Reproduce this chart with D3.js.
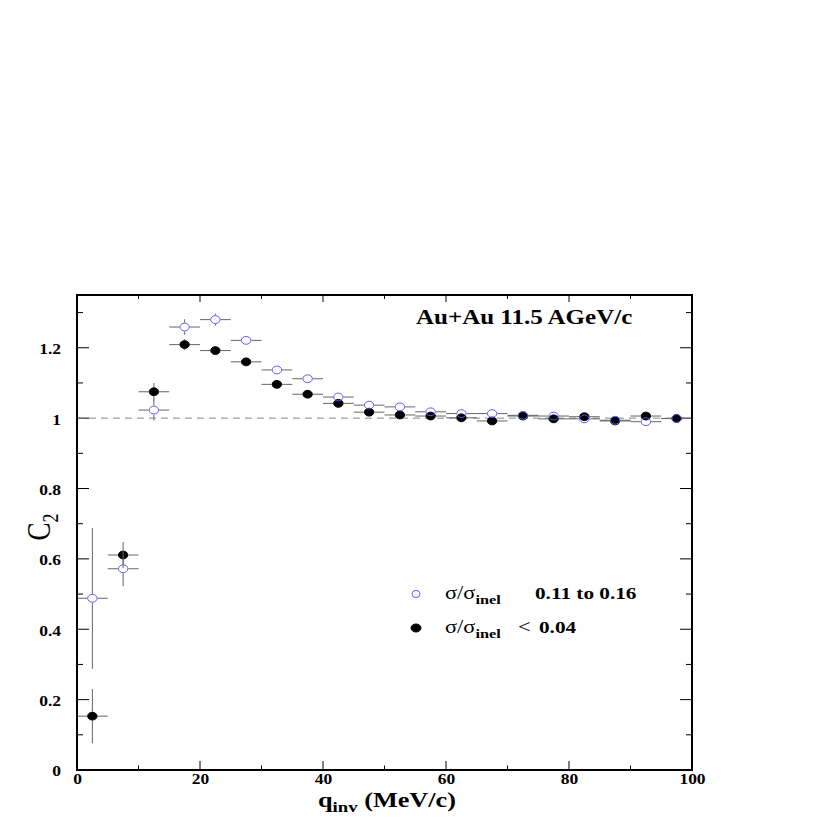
<!DOCTYPE html>
<html>
<head>
<meta charset="utf-8">
<script src="https://cdn.jsdelivr.net/npm/d3@7"></script>
<style>
  body { margin: 0; background: #fff; }
  text { font-family: "Liberation Serif", "Times New Roman", serif; }
</style>
</head>
<body>
<div id="chart"></div>
<script>
// bin centres (MeV/c) and half-width
let qBins = [2.5, 7.5, 12.5, 17.5, 22.5, 27.5, 32.5, 37.5, 42.5, 47.5,
             52.5, 57.5, 62.5, 67.5, 72.5, 77.5, 82.5, 87.5, 92.5, 97.5];
let qHalf = 2.5;

// sigma/sigma_inel 0.11 to 0.16 (open)
let openC2  = [0.488, 0.572, 1.023, 1.259, 1.280, 1.221, 1.137, 1.112, 1.060, 1.037,
               1.032, 1.018, 1.013, 1.013, 1.008, 1.006, 0.998, 0.994, 0.990, 0.999];
let openErr = [0.200, 0.050, 0.030, 0.022, 0.017, 0.010, 0.009, 0.008, 0.007, 0.007,
               0.006, 0.006, 0.006, 0.005, 0.005, 0.005, 0.005, 0.005, 0.005, 0.005];

// sigma/sigma_inel < 0.04 (full)
let fullC2  = [0.153, 0.611, 1.075, 1.209, 1.192, 1.160, 1.096, 1.068, 1.042, 1.017,
               1.009, 1.006, 1.001, 0.992, 1.006, 0.998, 1.004, 0.992, 1.006, 0.999];
let fullErr = [0.077, 0.037, 0.025, 0.016, 0.010, 0.009, 0.008, 0.007, 0.006, 0.006,
               0.005, 0.005, 0.005, 0.005, 0.005, 0.005, 0.005, 0.005, 0.005, 0.005];

let xTicks = [0, 20, 40, 60, 80, 100];
let yTicks = [0, 0.2, 0.4, 0.6, 0.8, 1, 1.2];

let svgWidth = 830;
let svgHeight = 830;
let margin = { top: 295, right: 138, bottom: 60, left: 77 };
let width = svgWidth - margin.left - margin.right;
let height = svgHeight - margin.top - margin.bottom;

// text in the picture is stretched sideways
let sx = 1.25;

let svg = d3.select('#chart').append('svg')
    .attr('width', svgWidth)
    .attr('height', svgHeight);

let chartGroup = svg.append('g')
    .attr('transform', `translate(${margin.left}, ${margin.top})`);

let xScale = d3.scaleLinear().domain([0, 100]).range([0, width]);
let yScale = d3.scaleLinear().domain([0, 1.35]).range([height, 0]);

// ticks on all four sides, drawn inwards
function tickMarks(values, isX, len, side) {
    values.forEach(v => {
        let line = chartGroup.append('line')
          .attr('stroke', '#000')
          .attr('stroke-width', 1);
        if (isX) {
            let x = xScale(v);
            let y0 = side === 'bottom' ? height : 0;
            let dir = side === 'bottom' ? -1 : 1;
            line.attr('x1', x).attr('x2', x).attr('y1', y0).attr('y2', y0 + dir * len);
        } else {
            let y = yScale(v);
            let x0 = side === 'left' ? 0 : width;
            let dir = side === 'left' ? 1 : -1;
            line.attr('y1', y).attr('y2', y).attr('x1', x0).attr('x2', x0 + dir * len);
        }
    });
}

let xMinor = d3.range(10, 100, 20);
let yMinor = d3.range(0.1, 1.35, 0.2);
tickMarks(xTicks, true, 9, 'bottom');
tickMarks(xMinor, true, 4.5, 'bottom');
tickMarks(xTicks, true, 7, 'top');
tickMarks(xMinor, true, 4, 'top');
tickMarks(yTicks, false, 12, 'left');
tickMarks(yMinor, false, 6, 'left');
tickMarks(yTicks, false, 12, 'right');
tickMarks(yMinor, false, 6, 'right');

// tick labels
let xAxis = d3.axisBottom(xScale).tickValues(xTicks).tickSize(0).tickPadding(0);
let xAxisG = chartGroup.append('g')
    .attr('transform', `translate(0, ${height})`)
    .call(xAxis);
xAxisG.select('.domain').remove();
xAxisG.selectAll('text')
    .attr('y', 0).attr('dy', null)
    .attr('transform', `translate(0, 14) scale(${sx}, 1)`)
    .attr('font-size', 14).attr('font-weight', 'bold')
    .attr('font-family', '"Liberation Serif", serif')
    .attr('fill', '#000');

let yAxis = d3.axisLeft(yScale).tickValues(yTicks).tickSize(0).tickPadding(0)
    .tickFormat(d => d3.format('')(+d.toFixed(1)));
let yAxisG = chartGroup.append('g').call(yAxis);
yAxisG.select('.domain').remove();
yAxisG.selectAll('text')
    .attr('x', 0).attr('dy', '0.35em')
    .attr('transform', `translate(-16, 1) scale(${sx}, 1)`)
    .attr('font-size', 14).attr('font-weight', 'bold')
    .attr('font-family', '"Liberation Serif", serif')
    .attr('fill', '#000');

// dashed reference at C2 = 1
chartGroup.append('line')
    .attr('x1', xScale(0)).attr('x2', xScale(100))
    .attr('y1', yScale(1)).attr('y2', yScale(1))
    .attr('stroke', '#888')
    .attr('stroke-width', 1)
    .attr('stroke-dasharray', '7,5');

// error bars with a gap around the marker
function drawSeries(values, errs, isOpen) {
    let data = qBins.map((q, i) => ({ q: q, c2: values[i], err: errs[i] }));
    let rx = 5.2, ry = 4.4;
    let bars = chartGroup.append('g')
      .attr('stroke', '#666')
      .attr('stroke-width', 1);
    data.forEach(d => {
        let cx = xScale(d.q), cy = yScale(d.c2);
        let xl = xScale(d.q - qHalf), xr = xScale(d.q + qHalf);
        let yt = yScale(d.c2 + d.err), yb = yScale(d.c2 - d.err);
        bars.append('line').attr('x1', xl).attr('x2', cx - rx).attr('y1', cy).attr('y2', cy);
        bars.append('line').attr('x1', cx + rx).attr('x2', xr).attr('y1', cy).attr('y2', cy);
        if (cy - yt > ry) {
            bars.append('line').attr('x1', cx).attr('x2', cx).attr('y1', yt).attr('y2', cy - ry);
            bars.append('line').attr('x1', cx).attr('x2', cx).attr('y1', cy + ry).attr('y2', yb);
        }
    });
    chartGroup.append('g').selectAll('ellipse')
      .data(data)
      .enter()
      .append('ellipse')
      .attr('cx', d => xScale(d.q))
      .attr('cy', d => yScale(d.c2))
      .attr('rx', rx - 0.5)
      .attr('ry', ry - 0.5)
      .attr('fill', isOpen ? 'none' : '#000')
      .attr('stroke', isOpen ? '#5a5aff' : '#000')
      .attr('stroke-width', 1);
}

drawSeries(fullC2, fullErr, false);
drawSeries(openC2, openErr, true);

// frame
chartGroup.append('rect')
    .attr('x', 0).attr('y', 0)
    .attr('width', width).attr('height', height)
    .attr('fill', 'none')
    .attr('stroke', '#000')
    .attr('stroke-width', 2);

// stretched text helper
function label(x, y, size, weight, anchor) {
    return svg.append('text')
      .attr('transform', `translate(${x}, ${y}) scale(${sx}, 1)`)
      .attr('font-size', size)
      .attr('font-weight', weight)
      .attr('text-anchor', anchor || 'start')
      .attr('fill', '#000');
}

// title inside the frame
label(416, 324, 20, 'bold').text('Au+Au 11.5 AGeV/c');

// x axis title
let xt = label(387, 807, 21, 'bold', 'middle');
xt.append('tspan').text('q');
xt.append('tspan').attr('font-size', 15).attr('dy', 5).text('inv');
xt.append('tspan').attr('dy', -5).text(' (MeV/c)');

// y axis title
let yt = svg.append('text')
    .attr('transform', `translate(50, 527) rotate(-90) scale(1, ${sx})`)
    .attr('font-size', 27)
    .attr('text-anchor', 'middle')
    .attr('fill', '#000');
yt.append('tspan').text('C');
yt.append('tspan').attr('font-size', 18).attr('dy', 6).text('2');

// legend
let legendRows = [
    { y: 594, open: true, text: '0.11 to 0.16', tx: 535 },
    { y: 628, open: false, text: '0.04', tx: 539 }
];
legendRows.forEach(r => {
    svg.append('ellipse')
      .attr('cx', 416).attr('cy', r.y)
      .attr('rx', r.open ? 4 : 5).attr('ry', r.open ? 3.6 : 4)
      .attr('fill', r.open ? 'none' : '#000')
      .attr('stroke', r.open ? '#5a5aff' : '#000');
    let t = label(445, r.y + 5, 18, 'normal');
    t.append('tspan').text('σ/σ');
    t.append('tspan').attr('font-size', 13).attr('font-weight', 'bold').attr('dy', 5).text('inel');
    if (!r.open) {
        label(518, r.y + 5, 18, 'normal').text('<');
    }
    label(r.tx, r.y + 5, 17, 'bold').text(r.text);
});
</script>
</body>
</html>
